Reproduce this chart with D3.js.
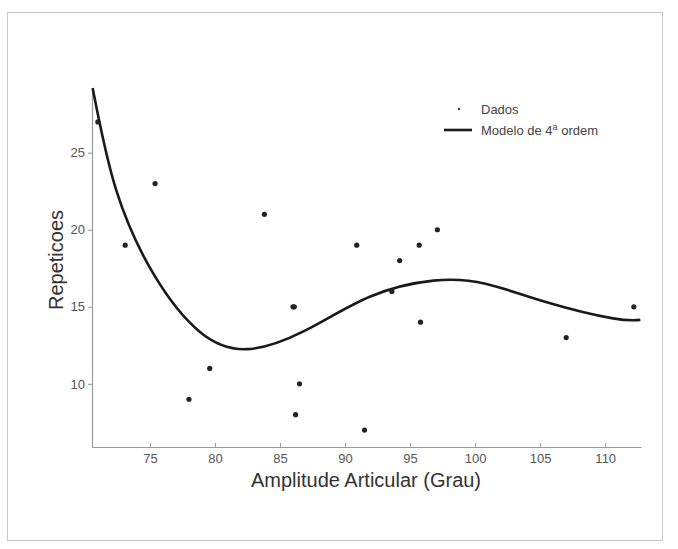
<!DOCTYPE html>
<html lang="pt">
<head>
    <meta charset="UTF-8">
    <title>Repeticoes x Amplitude Articular</title>
    <style>
        body {
            margin: 0;
            background: #fff;
        }
        text {
            font-family: "Liberation Sans", Arial, sans-serif;
        }
    </style>
</head>
<body>
<div id="chart"></div>
<script src="https://d3js.org/d3.v7.min.js"></script>
<script>
    // dados
    const dadosX = [71, 73.1, 75.4, 78, 79.6, 83.8, 86.1, 86.5, 86.2, 86.0, 90.9, 91.5, 93.6, 94.2, 95.7, 95.8, 97.1, 107, 112.2];
    const dadosY = [27, 19, 23, 9, 11, 21, 15, 10, 8, 15, 19, 7, 16, 18, 19, 14, 20, 13, 15];

    // pontos da curva do modelo de 4a ordem
    const modeloX = [70.6, 72.4, 75.3, 78.8, 82.4, 86.8, 91.9, 96.8, 100.8, 105.5, 110.6, 112.7];
    const modeloY = [29.2, 22.6, 17.1, 13.4, 12.25, 13.4, 15.65, 16.7, 16.5, 15.3, 14.25, 14.15];

    const ticksX = [75, 80, 85, 90, 95, 100, 105, 110];
    const ticksY = [10, 15, 20, 25];

    const width = 678, height = 549;
    const margin = {top: 88, right: 37, bottom: 102, left: 92};

    const svg = d3.select("#chart")
        .append("svg")
        .attr("width", width)
        .attr("height", height);

    // moldura da figura
    svg.append("rect")
        .attr("x", 7.5)
        .attr("y", 12.5)
        .attr("width", 655)
        .attr("height", 528)
        .attr("fill", "none")
        .attr("stroke", "#c8c8c8")
        .attr("stroke-width", 1);

    const x = d3.scaleLinear()
        .domain([70.55, 112.75])
        .range([margin.left, width - margin.right]);

    const y = d3.scaleLinear()
        .domain([5.9, 29.2])
        .range([height - margin.bottom, margin.top]);

    // eixo x
    const gx = svg.append("g")
        .attr("transform", `translate(0, ${height - margin.bottom})`)
        .call(d3.axisBottom(x).tickValues(ticksX).tickSize(-4).tickSizeOuter(0).tickPadding(7));

    // eixo y
    const gy = svg.append("g")
        .attr("transform", `translate(${margin.left}, 0)`)
        .call(d3.axisLeft(y).tickValues(ticksY).tickSize(4).tickSizeOuter(0).tickPadding(3));

    [gx, gy].forEach(function (g) {
        g.select(".domain").attr("stroke", "#9a9a9a").attr("stroke-width", 1.2);
        g.selectAll(".tick line").attr("stroke", "#9a9a9a");
        g.selectAll(".tick text")
            .attr("fill", "#555")
            .style("font-size", "13px")
            .style("font-family", "'Liberation Sans', Arial, sans-serif");
    });

    // titulos dos eixos
    svg.append("text")
        .attr("x", 366)
        .attr("y", 487)
        .attr("text-anchor", "middle")
        .attr("fill", "#333")
        .style("font-size", "20px")
        .text("Amplitude Articular (Grau)");

    svg.append("text")
        .attr("transform", "translate(63, 260) rotate(-90)")
        .attr("text-anchor", "middle")
        .attr("fill", "#333")
        .style("font-size", "20px")
        .text("Repeticoes");

    // curva do modelo
    const modelo = modeloX.map((d, i) => ({x: d, y: modeloY[i]}));
    const linha = d3.line()
        .curve(d3.curveNatural)
        .x(d => x(d.x))
        .y(d => y(d.y));

    svg.append("path")
        .datum(modelo)
        .attr("d", linha)
        .attr("fill", "none")
        .attr("stroke", "#1a1a1a")
        .attr("stroke-width", 2.6)
        .attr("stroke-linejoin", "round");

    // pontos dos dados
    const dados = dadosX.map((d, i) => ({x: d, y: dadosY[i]}));
    svg.selectAll(".ponto")
        .data(dados)
        .join("circle")
        .attr("class", "ponto")
        .attr("cx", d => x(d.x))
        .attr("cy", d => y(d.y))
        .attr("r", 2.6)
        .attr("fill", "#222");

    // legenda
    const leg = svg.append("g").attr("transform", "translate(444, 0)");
    leg.append("circle")
        .attr("cx", 15)
        .attr("cy", 109)
        .attr("r", 1.2)
        .attr("fill", "#444");
    leg.append("text")
        .attr("x", 37)
        .attr("y", 113.5)
        .attr("fill", "#444")
        .style("font-size", "13px")
        .text("Dados");
    leg.append("line")
        .attr("x1", 0)
        .attr("x2", 28)
        .attr("y1", 130)
        .attr("y2", 130)
        .attr("stroke", "#1a1a1a")
        .attr("stroke-width", 2.6);
    const t2 = leg.append("text")
        .attr("x", 37)
        .attr("y", 134.5)
        .attr("fill", "#444")
        .style("font-size", "13px");
    t2.append("tspan").text("Modelo de 4");
    t2.append("tspan").attr("dy", -5).style("font-size", "9px").text("a");
    t2.append("tspan").attr("dy", 5).text(" ordem");
</script>
</body>
</html>
